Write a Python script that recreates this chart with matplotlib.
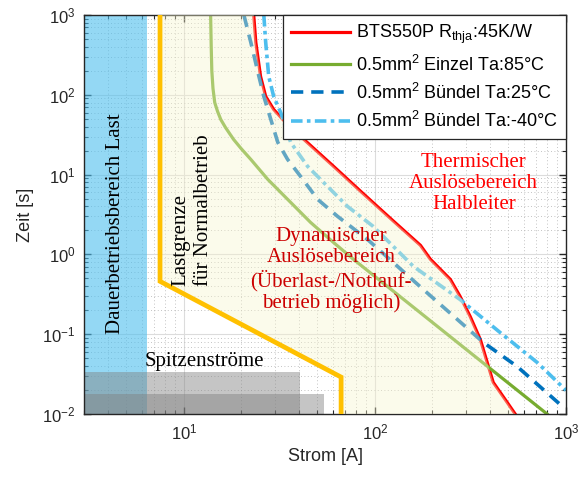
import matplotlib
matplotlib.use("Agg")
import matplotlib.pyplot as plt
from matplotlib.patches import Rectangle

plt.rcParams["font.family"] = ["Liberation Sans", "DejaVu Sans"]
plt.rcParams["mathtext.fontset"] = "custom"
plt.rcParams["mathtext.rm"] = "Liberation Sans"
plt.rcParams["mathtext.it"] = "Liberation Sans:italic"

# --- data (current in A, time in s) ---
red_i = [23.2, 23.8, 25.2, 26.8, 29.5, 32.9, 40.8, 60.7, 84, 125, 173, 195, 248, 279, 315, 356, 416, 492, 542]
red_t = [1000, 454, 170, 95.5, 65.6, 49.2, 30.1, 12.7, 6.2, 2.61, 1.3, 0.87, 0.486, 0.298, 0.167, 0.086, 0.0249, 0.014, 0.01]

green_i = [13.8, 13.9, 14.0, 14.2, 14.5, 15.0, 15.6, 16.5, 18.2, 20.0, 22.4, 27.5, 34.9, 46, 60.7, 77.3, 796]
green_t = [1000, 400, 200, 120, 80, 62, 49, 39, 27.6, 21, 15.5, 8.7, 4.9, 2.52, 1.41, 0.865, 0.01]

blue_i = [20.6, 22.4, 24.7, 26.2, 28.5, 31, 34.9, 40.8, 50.1, 63.7, 91.4, 179, 270, 369, 555, 931]
blue_t = [1000, 454, 170, 95.5, 49.2, 25.4, 15.5, 9.5, 4.9, 3.0, 1.54, 0.364, 0.153, 0.079, 0.0394, 0.0132]

lblue_i = [26.2, 26.8, 27.8, 29.5, 32.1, 36.2, 44.4, 56.5, 71.8, 98, 159, 279, 452, 706, 1000]
lblue_t = [1000, 454, 170, 95.5, 60, 25.4, 12.7, 7.1, 4.0, 2.24, 0.707, 0.272, 0.105, 0.0443, 0.0198]

orange_i = [7.5, 7.5, 66.5, 66.5]
orange_t = [1000, 0.46, 0.029, 0.01]

dauer_max = 6.4          # continuous operation region, A
peak_i = [40.6, 54.2]    # peak current boxes, A
peak_t = [0.0335, 0.0176]

labels = [r"BTS550P R$_{\rm thja}$:45K/W",
          r"0.5mm$^2$ Einzel Ta:85°C",
          r"0.5mm$^2$ Bündel Ta:25°C",
          r"0.5mm$^2$ Bündel Ta:-40°C"]

xmin, xmax, ymin, ymax = 3, 1000, 0.01, 1000

fig = plt.figure(figsize=(5.81, 4.79), dpi=100)
ax = fig.add_axes([84 / 581, 1 - 414 / 479, (566 - 84) / 581, (414 - 15) / 479])
ax.set_xscale("log")
ax.set_yscale("log")
ax.set_xlim(xmin, xmax)
ax.set_ylim(ymin, ymax)

ax.set_axisbelow(True)
ax.grid(True, which="major", color="#dcdcdc", lw=0.8)
ax.grid(True, which="minor", color="#b0b0b0", lw=0.6, ls=(0, (1, 3)))

# regions
ax.add_patch(Rectangle((xmin, ymin), dauer_max - xmin, ymax - ymin, color="#4dbeee", alpha=0.6, lw=0, zorder=1))
for pi, pt in zip(peak_i, peak_t):
    ax.add_patch(Rectangle((xmin, ymin), pi - xmin, pt - ymin, color="#808080", alpha=0.45, lw=0, zorder=1.5))

# curves
l1, = ax.plot(red_i, red_t, color="#ff0000", lw=2.3, zorder=2)
l2, = ax.plot(green_i, green_t, color="#77ac30", lw=2.3, zorder=2)
l3, = ax.plot(blue_i, blue_t, color="#0072bd", lw=2.6, dashes=(3.4, 2.2), zorder=2)
l4, = ax.plot(lblue_i, lblue_t, color="#4dbeee", lw=2.6, dashes=(3.2, 1.2, 1.0, 1.2), zorder=2)

# dynamic region between load limit and semiconductor curve
poly_x = orange_i + [red_i[-1]] + red_i[::-1]
poly_y = orange_t + [ymin] + red_t[::-1]
ax.fill(poly_x, poly_y, color="#f7f5cd", alpha=0.4, lw=0, zorder=3)

ax.plot(orange_i, orange_t, color="#ffc000", lw=3.4, zorder=4, solid_joinstyle="miter")

serif = ["Liberation Serif", "DejaVu Serif"]
ax.text(4.4, 2.4, "Dauerbetriebsbereich Last", rotation=90, ha="center", va="center",
        family=serif, fontsize=15, zorder=5)
ax.text(11.1, 0.4, "Lastgrenze\nfür Normalbetrieb", rotation=90, ha="center", va="bottom",
        multialignment="left", family=serif, fontsize=15, linespacing=1.25, zorder=5)
ax.text(59, 0.63, "Dynamischer\nAuslösebereich\n(Überlast-/Notlauf-\nbetrieb möglich)",
        ha="center", va="center", color="#cc0000", family=serif, fontsize=15, linespacing=1.15, zorder=5)
ax.text(329, 7.8, "Thermischer\nAuslösebereich\nHalbleiter", ha="center", va="center",
        color="#ff0000", family=serif, fontsize=15, linespacing=1.15, zorder=5)
ax.text(6.25, 0.0457, "Spitzenströme", ha="left", va="center", family=serif, fontsize=15, zorder=5)

leg = ax.legend([l1, l2, l3, l4], labels, loc="upper right", borderaxespad=0, fontsize=13,
                handlelength=3.3, handletextpad=0.3, labelspacing=0.45, borderpad=0.45,
                fancybox=False, framealpha=1, edgecolor="#262626")
leg.get_frame().set_linewidth(0.9)
leg.set_zorder(10)

ax.tick_params(which="both", direction="in", top=True, right=True, labelsize=12, colors="#262626",
               labelcolor="#262626", pad=6)
ax.tick_params(which="major", length=5, width=1)
ax.tick_params(which="minor", length=3, width=0.8)
for s in ax.spines.values():
    s.set_color("#262626")
    s.set_linewidth(1.0)

ax.set_xlabel("Strom [A]", fontsize=13, color="#262626", labelpad=4)
ax.set_ylabel("Zeit [s]", fontsize=13, color="#262626", labelpad=6)

fig.savefig("out.png", dpi=100)
